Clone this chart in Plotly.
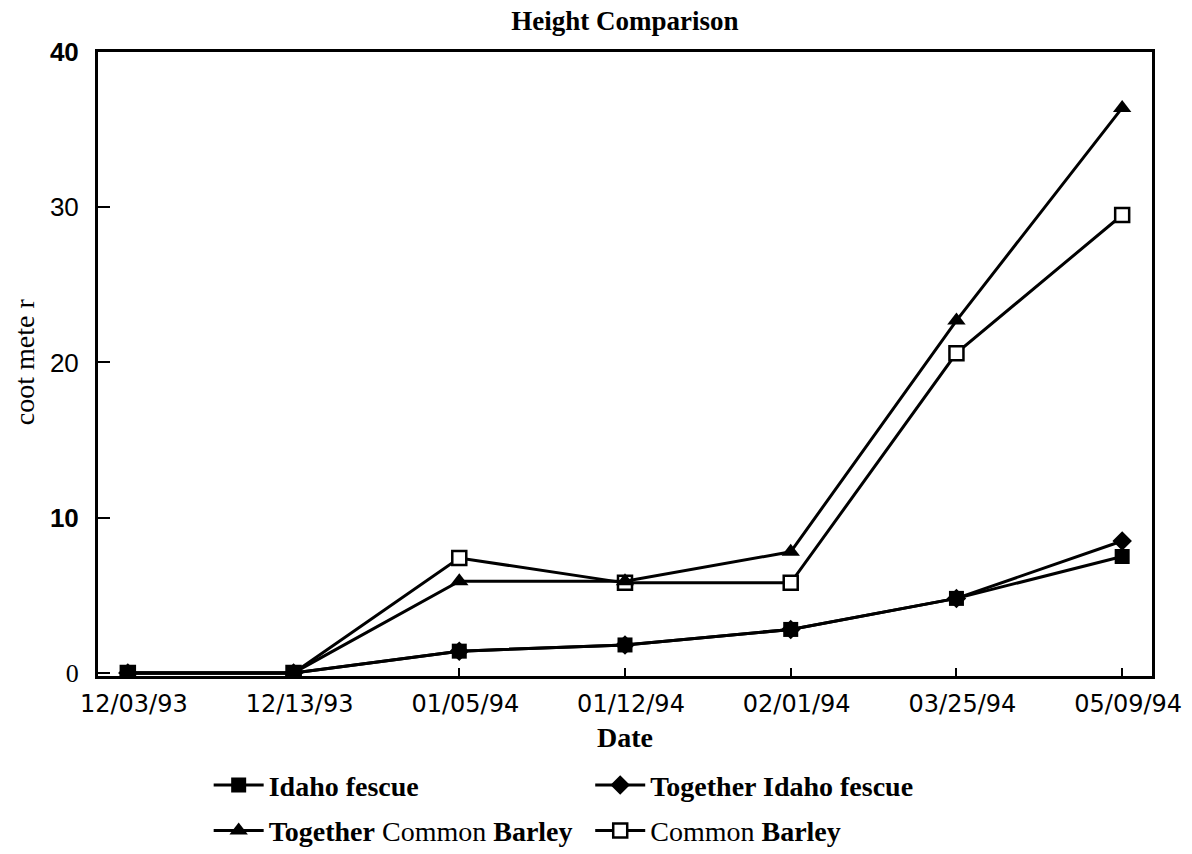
import plotly.graph_objects as go

# dates on the category axis
dates = ["12/03/93", "12/13/93", "01/05/94", "01/12/94", "02/01/94", "03/25/94", "05/09/94"]

# plant height, centimeters
idaho_fescue = [0, 0, 1.4, 1.8, 2.8, 4.8, 7.5]
together_idaho_fescue = [0, 0, 1.4, 1.8, 2.8, 4.8, 8.5]
together_common_barley = [0, 0, 5.9, 5.9, 7.8, 22.7, 36.4]
common_barley = [0, 0, 7.4, 5.8, 5.8, 20.6, 29.5]

y_ticks = [0, 10, 20, 30, 40]
y_tick_text = ["<span style='font-family:Liberation Serif'>0</span>", "<b>10</b>", "20", "30", "<b>40</b>"]

serif = "Liberation Serif, Times New Roman, serif"
sans = "Liberation Sans, Arial, sans-serif"

fig = go.Figure()

# draw order: barley first, fescue last so filled squares sit on top
fig.add_trace(go.Scatter(
    x=dates, y=common_barley, mode="lines+markers",
    name="Common <b>Barley</b>", legend="legend4",
    line=dict(color="black", width=3),
    marker=dict(symbol="square", size=14, color="white", line=dict(color="black", width=2.5)),
))
fig.add_trace(go.Scatter(
    x=dates, y=together_common_barley, mode="lines+markers",
    name="<b>Together</b> Common <b>Barley</b>", legend="legend3",
    line=dict(color="black", width=3),
    marker=dict(symbol="triangle-up", size=16, color="black"),
))
fig.add_trace(go.Scatter(
    x=dates, y=together_idaho_fescue, mode="lines+markers",
    name="<b>Together Idaho fescue</b>", legend="legend2",
    line=dict(color="black", width=3),
    marker=dict(symbol="diamond", size=15, color="black"),
))
fig.add_trace(go.Scatter(
    x=dates, y=idaho_fescue, mode="lines+markers",
    name="<b>Idaho fescue</b>", legend="legend",
    line=dict(color="black", width=3),
    marker=dict(symbol="square", size=15, color="black"),
))

legend_style = dict(
    font=dict(family=serif, size=28, color="black"),
    bgcolor="rgba(0,0,0,0)", xanchor="left", yanchor="middle", itemwidth=50,
)

fig.update_layout(
    width=1184, height=846,
    # fixed margins: the legends below the plot must not push them
    margin=dict(l=90, r=40, t=44, b=178, autoexpand=False),
    paper_bgcolor="white", plot_bgcolor="white",
    title=dict(text="<b>Height Comparison</b>", x=0.5, xref="paper", xanchor="center",
               y=1.0, yref="container", yanchor="top", pad=dict(t=3),
               font=dict(family=serif, size=27, color="black")),
    showlegend=True,
    legend=dict(x=0.105, y=-0.175, **legend_style),
    legend2=dict(x=0.467, y=-0.175, **legend_style),
    legend3=dict(x=0.105, y=-0.248, **legend_style),
    legend4=dict(x=0.467, y=-0.248, **legend_style),
    xaxis=dict(
        type="category", range=[-0.18, 6.18],
        showline=True, linecolor="black", linewidth=3, mirror=True,
        ticks="inside", ticklen=8, tickwidth=1.5, tickcolor="black",
        showgrid=False, zeroline=False, ticklabelstandoff=4, ticklabelshift=6,
        tickfont=dict(family="DejaVu Sans, sans-serif", size=24, color="black"),
    ),
    yaxis=dict(
        range=[-0.2, 40],
        tickvals=y_ticks, ticktext=y_tick_text,
        showline=True, linecolor="black", linewidth=3, mirror=True,
        ticks="inside", ticklen=12, tickwidth=1.5, tickcolor="black",
        showgrid=False, zeroline=False, ticklabelstandoff=11,
        tickfont=dict(family=sans, size=26, color="black"),
    ),
    annotations=[
        dict(text="<b>Date</b>", x=0.5, y=-0.098, xref="paper", yref="paper",
             xanchor="center", yanchor="middle", showarrow=False,
             font=dict(family=serif, size=28, color="black")),
        dict(text="coot mete r", x=-0.0702, y=0.503, xref="paper", yref="paper",
             xanchor="center", yanchor="middle", textangle=-90, showarrow=False,
             font=dict(family=serif, size=28, color="black")),
    ],
)

fig.write_html("out.html")
